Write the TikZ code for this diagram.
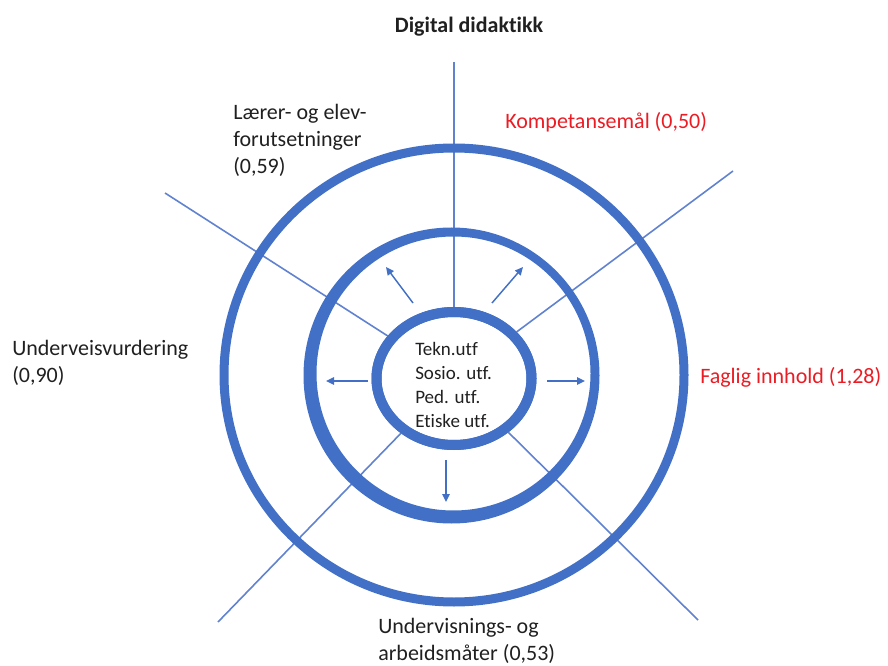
\documentclass[tikz,border=0pt]{standalone}
\usepackage{fontspec}
\setmainfont{Carlito}[Ligatures=NoCommon]
\usetikzlibrary{arrows.meta,shapes.geometric}
\definecolor{ringblue}{RGB}{66,112,198}
\definecolor{spokeblue}{RGB}{96,130,208}
\definecolor{labelred}{RGB}{235,28,36}
\definecolor{ink}{RGB}{32,32,32}
\begin{document}
\begin{tikzpicture}[x=0.75pt,y=-0.75pt,
  spoke/.style={draw=spokeblue,line width=1.2pt},
  arr/.style={draw=ringblue,line width=1.1pt,-{Triangle[length=6pt,width=5.5pt]}},
  lbl/.style={font=\fontsize{16.5}{20.25}\selectfont,text=ink,align=left,inner sep=0pt},
  titlelbl/.style={font=\fontsize{16.5}{20.25}\selectfont\bfseries,text=ink,inner sep=0pt},
  redlbl/.style={lbl,text=labelred},
  ctext/.style={font=\fontsize{14.25}{18}\selectfont,text=ink,align=left,inner sep=0pt},
  corering/.style={ellipse,draw=ringblue,line width=7.5pt,minimum width=116.25pt,minimum height=99.75pt,inner sep=0pt}
]
\useasboundingbox (0,0) rectangle (888,666);
% inner core ring
\node[corering] (core) at (454,378.5) {};
% spoke end points
\coordinate (sT) at (454,62);
\coordinate (sUR) at (733,171);
\coordinate (sUL) at (165,193);
\coordinate (sLL) at (218,622);
\coordinate (sLR) at (698,620);
\draw[spoke] (sT) -- (core);
\draw[spoke] (sUR) -- (core);
\draw[spoke] (sUL) -- (core);
\draw[spoke] (sLL) -- (core);
\draw[spoke] (sLR) -- (core);
% outer ring
\draw[draw=ringblue,line width=6.75pt] (454,375) ellipse [x radius=172.5pt,y radius=170.25pt];
% middle ring (crescent)
\fill[ringblue,even odd rule] (451.5,375.5) circle [radius=111pt] (453.5,373.5) circle [radius=102.75pt];
% redraw core on top
\node[corering] at (454,378.5) {};
% arrows
\coordinate (aULs) at (413,303); \coordinate (aULe) at (386,267);
\coordinate (aURs) at (492,303); \coordinate (aURe) at (523,267);
\coordinate (aLs) at (368,381);  \coordinate (aLe) at (326,381);
\coordinate (aRs) at (547,381);  \coordinate (aRe) at (585,381);
\coordinate (aDs) at (446,460);  \coordinate (aDe) at (446,502);
\draw[arr] (aULs) -- (aULe);
\draw[arr] (aURs) -- (aURe);
\draw[arr] (aLs) -- (aLe);
\draw[arr] (aRs) -- (aRe);
\draw[arr] (aDs) -- (aDe);
% texts
\node[ctext,anchor=west] (utf) at (415,385) {Tekn.utf\\Sosio. utf.\\Ped. utf.\\Etiske utf.};
\node[titlelbl] (title) at (469,27) {Digital didaktikk};
\node[lbl,anchor=west] (laerer) at (233,140) {Lærer- og elev-\\forutsetninger\\(0,59)};
\node[redlbl,anchor=west] (komp) at (505,122) {Kompetansemål (0,50)};
\node[lbl,anchor=west] (underv) at (12,363) {Underveisvurdering\\(0,90)};
\node[redlbl,anchor=west] (faglig) at (700,377) {Faglig innhold (1,28)};
\node[lbl,anchor=west] (arbeid) at (378,641) {Undervisnings- og\\arbeidsmåter (0,53)};
\end{tikzpicture}
\end{document}
